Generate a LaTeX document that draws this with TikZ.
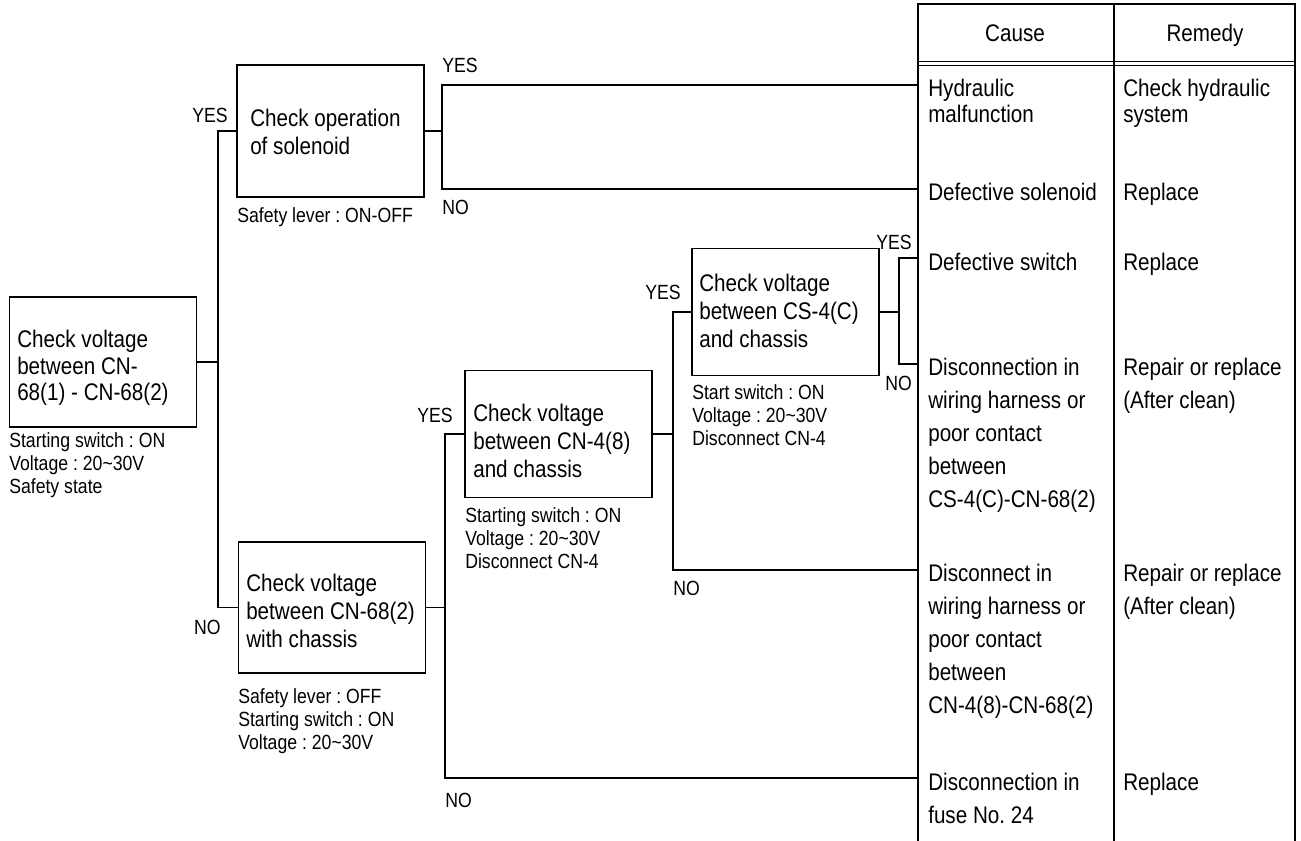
\documentclass[tikz,border=0pt]{standalone}
\usepackage{fontspec}
\setmainfont{Liberation Sans}[FakeStretch=0.86]
\frenchspacing
\begin{document}
\frenchspacing
\begin{tikzpicture}[x=0.75pt,y=-0.75pt,
  box/.style={draw, line width=1.1pt, minimum width=140.5pt, inner sep=0pt},
  btext/.style={align=left, font=\fontsize{18}{21}\selectfont, inner sep=0pt, anchor=west},
  small/.style={align=left, font=\fontsize{15.4}{17.3}\selectfont, inner sep=0pt},
  ttext/.style={align=left, font=\fontsize{18}{24.75}\selectfont, inner sep=0pt, anchor=north west},
  ttextb/.style={align=left, font=\fontsize{18}{19.5}\selectfont, inner sep=0pt, anchor=north west},
  htext/.style={font=\fontsize{18}{21}\selectfont, inner sep=0pt, anchor=base},
  conn/.style={line width=0.8pt},
]
\useasboundingbox (0,0) rectangle (1301,841);

% boxes
\node[box, minimum height=97.5pt] (b1) at (103,362) {};
\node[box, minimum height=99pt] (b2) at (330.5,131) {};
\node[box, minimum height=98.25pt] (b3) at (332,607.5) {};
\node[box, minimum height=95.25pt] (b4) at (558.5,434) {};
\node[box, minimum height=95.25pt] (b5) at (785.5,312) {};

% box texts
\node[btext, font=\fontsize{18}{20}\selectfont] (b1t) at (17,368) {Check voltage\\between CN-\\68(1) - CN-68(2)};
\node[btext] (b2t) at (250,132) {Check operation\\of solenoid};
\node[btext] (b3t) at (246,611) {Check voltage\\between CN-68(2)\\with chassis};
\node[btext] (b4t) at (473,441) {Check voltage\\between CN-4(8)\\and chassis};
\node[btext] (b5t) at (699,311) {Check voltage\\between CS-4(C)\\and chassis};

% conditions
\node[small, anchor=north west] (b1c) at (9,432) {Starting switch : ON\\Voltage : 20\textasciitilde30V\\Safety state};
\node[small, anchor=north west] (b2c) at (237,207) {Safety lever : ON-OFF};
\node[small, anchor=north west] (b3c) at (238,688) {Safety lever : OFF\\Starting switch : ON\\Voltage : 20\textasciitilde30V};
\node[small, anchor=north west] (b4c) at (465,507) {Starting switch : ON\\Voltage : 20\textasciitilde30V\\Disconnect CN-4};
\node[small, anchor=north west] (b5c) at (692,384) {Start switch : ON\\Voltage : 20\textasciitilde30V\\Disconnect CN-4};

% YES / NO labels
\node[small, anchor=east] (y1) at (228,115) {YES};
\node[small, anchor=east] (n1) at (221,627) {NO};
\node[small, anchor=west] (y2) at (442,65) {YES};
\node[small, anchor=west] (n2) at (442,207) {NO};
\node[small, anchor=east] (y3) at (453,415) {YES};
\node[small, anchor=west] (n3) at (445,800) {NO};
\node[small, anchor=east] (y4) at (681,292) {YES};
\node[small, anchor=west] (n4) at (673,588) {NO};
\node[small, anchor=east] (y5) at (912,242) {YES};
\node[small, anchor=east] (n5) at (912,383) {NO};

% junctions and table entry points
\coordinate (j1) at (218,362);
\coordinate (j2) at (442,131);
\coordinate (j3) at (445,607.5);
\coordinate (j4) at (673,434);
\coordinate (j5) at (899,312);
\coordinate (t1) at (918,85);
\coordinate (t2) at (918,189);
\coordinate (t3) at (918,258);
\coordinate (t4) at (918,364);
\coordinate (t5) at (918,570);
\coordinate (t6) at (918,778);

% connectors
\draw[conn] (b1.east) -- (j1);
\draw[conn] (b2.west) -| (j1) |- (b3.west);
\draw[conn] (b2.east) -- (j2);
\draw[conn] (t1) -| (j2) |- (t2);
\draw[conn] (b3.east) -- (j3);
\draw[conn] (b4.west) -| (j3) |- (t6);
\draw[conn] (b4.east) -- (j4);
\draw[conn] (b5.west) -| (j4) |- (t5);
\draw[conn] (b5.east) -- (j5);
\draw[conn] (t3) -| (j5) |- (t4);

% table
\draw[line width=1.6pt] (918,4) -- (918,845);
\draw[line width=1.2pt] (917,4) -- (1295,4) -- (1295,845);
\draw[line width=0.8pt] (1114,4) -- (1114,845);
\draw[line width=0.6pt] (918,61) -- (1295,61);
\draw[line width=0.6pt] (918,65) -- (1295,65);

\node[htext] (hc) at (1015,42) {Cause};
\node[htext] (hr) at (1205,42) {Remedy};

\node[ttextb] (c1) at (928,79) {Hydraulic\\malfunction};
\node[ttext] (c2) at (928,183) {Defective solenoid};
\node[ttext] (c3) at (928,253) {Defective switch};
\node[ttext] (c4) at (928,358) {Disconnection in\\wiring harness or\\poor contact\\between\\CS-4(C)-CN-68(2)};
\node[ttext] (c5) at (928,564) {Disconnect in\\wiring harness or\\poor contact\\between\\CN-4(8)-CN-68(2)};
\node[ttext] (c6) at (928,773) {Disconnection in\\fuse No. 24};

\node[ttextb] (r1) at (1123,79) {Check hydraulic\\system};
\node[ttext] (r2) at (1123,183) {Replace};
\node[ttext] (r3) at (1123,253) {Replace};
\node[ttext] (r4) at (1123,358) {Repair or replace\\(After clean)};
\node[ttext] (r5) at (1123,564) {Repair or replace\\(After clean)};
\node[ttext] (r6) at (1123,773) {Replace};
\end{tikzpicture}
\end{document}
